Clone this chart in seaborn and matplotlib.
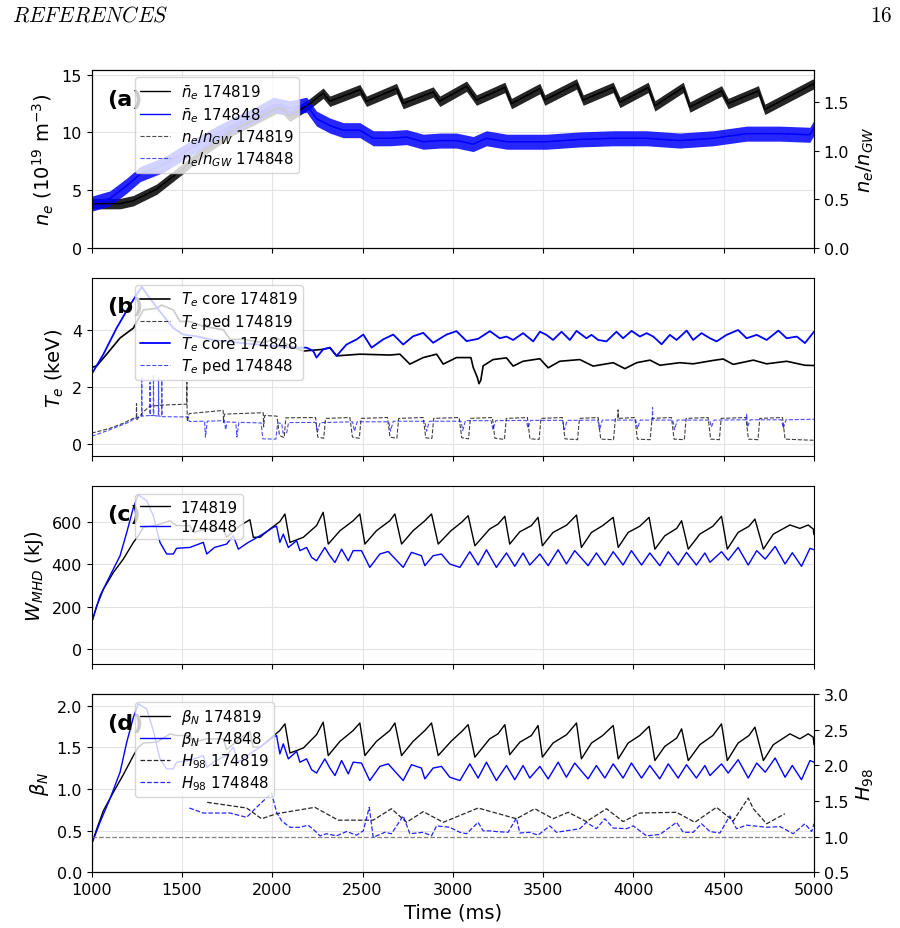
import numpy as np
import matplotlib
matplotlib.use("Agg")
import matplotlib.pyplot as plt
import seaborn as sns

# ---------------- data ----------------
time_ticks = [1000, 1500, 2000, 2500, 3000, 3500, 4000, 4500, 5000]

# (a) line-averaged density, 1e19 m^-3  (time ms, value)
ne_174819 = [(1000, 3.85), (1157, 3.85), (1230, 4.1), (1360, 5.1), (1507, 6.9), (1637, 8.6),
             (1784, 10.2), (1913, 11.2), (2024, 12.1), (2060, 12.0), (2098, 11.4), (2208, 12.5),
             (2282, 13.4), (2319, 12.7), (2485, 13.7), (2522, 12.7), (2688, 13.8), (2725, 12.5),
             (2891, 13.5), (2928, 12.7), (3076, 14.0), (3131, 12.8), (3288, 13.9), (3325, 12.5),
             (3482, 13.8), (3509, 12.8), (3685, 14.2), (3722, 12.8), (3888, 13.9), (3925, 12.6),
             (4082, 13.9), (4119, 12.3), (4276, 13.9), (4313, 12.2), (4488, 13.6), (4525, 12.5),
             (4692, 13.6), (4728, 12.0), (4996, 14.2), (5000, 14.0)]
ne_174848 = [(1000, 3.84), (1101, 4.3), (1194, 5.4), (1268, 6.4), (1397, 7.2), (1544, 8.6),
             (1692, 9.9), (1803, 10.8), (1913, 11.6), (2006, 12.4), (2098, 12.1), (2190, 12.4),
             (2245, 11.2), (2319, 10.6), (2393, 10.2), (2485, 10.2), (2559, 9.5), (2651, 9.5),
             (2744, 9.6), (2836, 9.2), (2928, 9.3), (3020, 9.3), (3113, 9.0), (3186, 9.5),
             (3300, 9.2), (3518, 9.2), (3703, 9.4), (3888, 9.5), (4073, 9.5), (4257, 9.3),
             (4442, 9.5), (4627, 9.9), (4811, 9.9), (4977, 9.8), (5000, 10.4)]
ne_noise_174819 = 0.45   # half-width of the noisy trace
ne_noise_174848 = 0.65
n_gw_174819 = 8.41       # Greenwald density (1e19 m^-3)
n_gw_174848 = 8.41

# (b) electron temperature, keV
te_core_174819 = [(1000, 2.69), (1028, 2.75), (1083, 3.16), (1157, 3.73), (1231, 4.08), (1286, 4.72),
                  (1360, 4.77), (1387, 4.89), (1452, 4.72), (1489, 4.31), (1544, 4.31), (1618, 4.14),
                  (1729, 4.02), (1766, 3.68), (1839, 3.68), (1950, 3.56), (2024, 3.73), (2098, 3.45),
                  (2172, 3.27), (2282, 3.33), (2319, 3.39), (2356, 3.10), (2485, 3.16), (2651, 3.13),
                  (2707, 3.16), (2762, 2.81), (2836, 3.04), (2910, 3.16), (2947, 2.81), (3020, 3.04),
                  (3100, 3.04), (3113, 2.69), (3135, 2.35), (3145, 2.12), (3155, 2.25), (3168, 2.75),
                  (3223, 2.97), (3297, 3.03), (3334, 2.74), (3389, 2.91), (3482, 3.00), (3528, 2.68),
                  (3592, 2.91), (3703, 2.97), (3777, 2.74), (3888, 2.86), (3953, 2.65), (4018, 2.86),
                  (4092, 2.95), (4147, 2.77), (4257, 2.86), (4331, 2.82), (4442, 2.94), (4497, 2.99),
                  (4553, 2.80), (4664, 2.95), (4738, 2.82), (4849, 2.91), (4950, 2.77), (5000, 2.76)]
te_ped_174819 = [(1000, 0.38), (1100, 0.55), (1175, 0.73), (1230, 0.90), (1247, 0.93), (1248, 1.42),
                 (1250, 0.86), (1286, 1.13), (1323, 1.33), (1400, 1.37), (1525, 1.40), (1527, 2.17),
                 (1529, 0.79), (1540, 1.07), (1728, 1.18), (1730, 0.76), (1735, 1.05), (1950, 1.10),
                 (1952, 0.60), (1958, 1.00), (2026, 0.98), (2040, 0.30), (2066, 0.22), (2075, 0.92),
                 (2240, 0.93), (2252, 0.24), (2285, 0.20), (2295, 0.90),
                 (2430, 0.93), (2444, 0.24), (2482, 0.20), (2492, 0.90),
                 (2638, 0.93), (2652, 0.24), (2690, 0.20), (2700, 0.90),
                 (2836, 0.93), (2850, 0.22), (2884, 0.19), (2894, 0.90),
                 (3035, 0.93), (3049, 0.22), (3087, 0.18), (3097, 0.90),
                 (3219, 0.93), (3233, 0.20), (3286, 0.16), (3296, 0.90),
                 (3413, 0.93), (3427, 0.18), (3478, 0.16), (3488, 0.90),
                 (3607, 0.93), (3621, 0.18), (3691, 0.15), (3701, 0.90),
                 (3805, 0.93), (3819, 0.17), (3890, 0.15), (3900, 0.88), (3914, 0.90), (3915, 1.20),
                 (3917, 0.90),
                 (4008, 0.93), (4022, 0.17), (4093, 0.15), (4103, 0.90),
                 (4211, 0.93), (4225, 0.17), (4282, 0.15), (4292, 0.90),
                 (4414, 0.93), (4428, 0.17), (4476, 0.15), (4486, 0.90),
                 (4623, 0.93), (4637, 0.17), (4690, 0.15), (4700, 0.90),
                 (4826, 0.93), (4840, 0.17), (4950, 0.14), (5000, 0.13)]
te_core_174848 = [(1000, 2.46), (1065, 3.16), (1138, 4.08), (1212, 4.89), (1277, 5.53), (1323, 5.12),
                  (1378, 4.66), (1452, 4.08), (1507, 3.85), (1581, 3.79), (1655, 3.68), (1729, 3.62),
                  (1821, 3.56), (1913, 3.50), (2006, 3.45), (2098, 3.39), (2190, 3.39), (2227, 3.27),
                  (2245, 3.04), (2282, 3.33), (2319, 3.39), (2356, 3.10), (2411, 3.50), (2467, 3.68),
                  (2504, 3.85), (2550, 3.39), (2614, 3.68), (2670, 3.85), (2725, 3.50), (2780, 3.79),
                  (2836, 3.91), (2891, 3.56), (2965, 3.85), (3020, 3.97), (3076, 3.62), (3140, 3.70),
                  (3205, 3.97), (3260, 3.72), (3297, 3.78), (3334, 3.66), (3389, 3.90), (3445, 3.61),
                  (3482, 3.95), (3518, 3.84), (3555, 3.66), (3602, 3.95), (3648, 3.66), (3685, 3.98),
                  (3740, 3.72), (3768, 3.84), (3805, 3.66), (3851, 3.61), (3906, 3.95), (3943, 3.72),
                  (3990, 3.98), (4036, 3.78), (4073, 3.90), (4110, 3.78), (4156, 3.51), (4202, 3.84),
                  (4239, 3.66), (4295, 3.99), (4331, 3.66), (4377, 3.90), (4424, 3.72), (4461, 3.61),
                  (4516, 3.84), (4580, 4.01), (4627, 3.72), (4683, 3.84), (4738, 3.66), (4803, 3.99),
                  (4849, 3.72), (4905, 3.78), (4950, 3.55), (5000, 3.95)]
te_ped_174848 = [(1000, 0.27), (1100, 0.50), (1200, 0.75), (1240, 0.90), (1276, 0.98), (1277, 2.35),
                 (1279, 0.98), (1322, 1.00), (1323, 2.17), (1325, 1.00), (1341, 1.00), (1342, 2.40),
                 (1344, 1.00), (1369, 0.98), (1370, 2.29), (1372, 0.98), (1387, 0.97), (1388, 2.23),
                 (1390, 0.96), (1535, 0.95), (1540, 0.79), (1625, 0.80), (1630, 0.24), (1640, 0.80),
                 (1735, 0.82), (1742, 0.50), (1750, 0.78), (1798, 0.76), (1804, 0.24), (1815, 0.76),
                 (1938, 0.74), (1948, 0.18), (2020, 0.17), (2030, 0.74), (2052, 0.72), (2060, 0.38),
                 (2080, 0.40), (2090, 0.75), (2240, 0.76), (2250, 0.42), (2265, 0.75), (2445, 0.78),
                 (2455, 0.45), (2470, 0.78), (2645, 0.78), (2655, 0.45), (2670, 0.80), (2845, 0.80),
                 (2855, 0.45), (2870, 0.80), (3045, 0.80), (3055, 0.48), (3070, 0.82), (3212, 0.82),
                 (3222, 0.50), (3237, 0.82), (3406, 0.83), (3416, 0.56), (3431, 0.83), (3608, 0.83),
                 (3618, 0.50), (3633, 0.83), (3803, 0.84), (3813, 0.50), (3828, 0.84), (4013, 0.84),
                 (4023, 0.54), (4038, 0.84), (4104, 0.84), (4106, 1.29), (4108, 0.84), (4218, 0.84),
                 (4228, 0.50), (4243, 0.84), (4422, 0.84), (4432, 0.60), (4447, 0.84), (4625, 0.85),
                 (4627, 1.06), (4632, 0.60), (4647, 0.85), (4820, 0.85), (4830, 0.55), (4845, 0.85),
                 (5000, 0.87)]

# (c) stored energy, kJ
w_174819 = [(1000, 126), (1028, 205), (1065, 283), (1120, 362), (1175, 425), (1231, 504), (1258, 535),
            (1286, 575), (1360, 586), (1434, 606), (1470, 583), (1544, 583), (1563, 551), (1637, 567),
            (1729, 567), (1747, 528), (1821, 583), (1876, 611), (1895, 528), (1932, 528), (1987, 567),
            (2042, 602), (2070, 638), (2098, 504), (2172, 528), (2245, 583), (2282, 646), (2310, 496),
            (2375, 559), (2448, 606), (2485, 638), (2513, 496), (2577, 559), (2651, 606), (2679, 638),
            (2716, 496), (2780, 559), (2845, 606), (2882, 638), (2919, 496), (2990, 559), (3050, 600),
            (3085, 630), (3122, 488), (3204, 567), (3250, 590), (3288, 627), (3315, 496), (3371, 554),
            (3435, 583), (3472, 622), (3496, 488), (3555, 551), (3630, 585), (3685, 633), (3712, 480),
            (3768, 551), (3830, 583), (3888, 622), (3916, 480), (3971, 551), (4035, 580), (4087, 622),
            (4119, 472), (4174, 535), (4240, 570), (4267, 606), (4304, 472), (4368, 543), (4440, 580),
            (4488, 627), (4520, 472), (4580, 551), (4640, 580), (4673, 614), (4720, 472), (4775, 543),
            (4867, 586), (4922, 570), (4968, 586), (4996, 567), (5000, 540)]
w_174848 = [(1000, 126), (1046, 252), (1101, 346), (1157, 441), (1194, 551), (1231, 669), (1258, 728),
            (1304, 701), (1341, 630), (1378, 504), (1415, 449), (1452, 449), (1470, 476), (1544, 480),
            (1618, 504), (1637, 449), (1680, 480), (1747, 496), (1784, 535), (1812, 472), (1860, 500),
            (1932, 535), (2006, 575), (2024, 580), (2042, 504), (2061, 543), (2089, 480), (2135, 512),
            (2153, 465), (2190, 480), (2218, 433), (2245, 417), (2291, 480), (2319, 441), (2347, 409),
            (2384, 472), (2421, 417), (2448, 465), (2494, 465), (2540, 386), (2596, 449), (2642, 461),
            (2725, 386), (2771, 457), (2826, 441), (2845, 394), (2891, 441), (2937, 449), (2983, 402),
            (3039, 386), (3094, 460), (3140, 397), (3186, 469), (3241, 386), (3297, 454), (3343, 391),
            (3389, 454), (3426, 397), (3482, 449), (3528, 394), (3583, 469), (3629, 402), (3675, 465),
            (3749, 394), (3795, 454), (3842, 397), (3888, 460), (3943, 397), (3989, 465), (4045, 397),
            (4091, 454), (4146, 394), (4193, 460), (4248, 397), (4294, 457), (4349, 397), (4396, 454),
            (4424, 410), (4488, 460), (4525, 420), (4580, 480), (4636, 397), (4683, 465), (4730, 425),
            (4785, 485), (4840, 402), (4880, 455), (4931, 391), (4978, 476), (5000, 469)]

# (d) normalised beta and confinement factor
beta_174819 = [(1000, 0.34), (1028, 0.52), (1065, 0.74), (1120, 0.96), (1175, 1.17), (1231, 1.40),
               (1258, 1.50), (1286, 1.55), (1360, 1.56), (1434, 1.66), (1470, 1.64), (1544, 1.64),
               (1563, 1.56), (1637, 1.60), (1729, 1.60), (1747, 1.47), (1821, 1.60), (1876, 1.69),
               (1895, 1.50), (1932, 1.50), (1987, 1.60), (2042, 1.70), (2070, 1.78), (2098, 1.43),
               (2172, 1.49), (2245, 1.65), (2282, 1.80), (2310, 1.40), (2375, 1.57), (2448, 1.70),
               (2485, 1.79), (2513, 1.40), (2577, 1.57), (2651, 1.70), (2679, 1.79), (2716, 1.40),
               (2780, 1.57), (2845, 1.70), (2882, 1.79), (2919, 1.40), (2990, 1.57), (3050, 1.69),
               (3085, 1.77), (3122, 1.38), (3204, 1.60), (3250, 1.66), (3288, 1.77), (3315, 1.41),
               (3371, 1.56), (3435, 1.64), (3472, 1.76), (3496, 1.38), (3555, 1.55), (3630, 1.65),
               (3685, 1.79), (3712, 1.36), (3768, 1.55), (3830, 1.64), (3888, 1.76), (3916, 1.36),
               (3971, 1.55), (4035, 1.64), (4087, 1.75), (4119, 1.34), (4174, 1.51), (4240, 1.61),
               (4267, 1.72), (4304, 1.34), (4368, 1.53), (4440, 1.64), (4488, 1.78), (4520, 1.34),
               (4580, 1.55), (4640, 1.64), (4673, 1.74), (4720, 1.34), (4775, 1.53), (4867, 1.66),
               (4922, 1.60), (4968, 1.66), (4996, 1.62), (5000, 1.53)]
beta_174848 = [(1000, 0.34), (1046, 0.60), (1101, 0.88), (1157, 1.20), (1194, 1.56), (1231, 1.86),
               (1258, 2.02), (1304, 1.96), (1341, 1.70), (1378, 1.36), (1415, 1.24), (1452, 1.24),
               (1470, 1.32), (1544, 1.34), (1618, 1.40), (1637, 1.26), (1680, 1.33), (1747, 1.40),
               (1784, 1.50), (1812, 1.32), (1860, 1.40), (1932, 1.50), (2006, 1.62), (2024, 1.64),
               (2042, 1.42), (2061, 1.54), (2089, 1.36), (2135, 1.45), (2153, 1.32), (2190, 1.36),
               (2218, 1.23), (2245, 1.19), (2291, 1.36), (2319, 1.25), (2347, 1.16), (2384, 1.34),
               (2421, 1.18), (2448, 1.32), (2494, 1.31), (2540, 1.10), (2596, 1.27), (2642, 1.30),
               (2725, 1.10), (2771, 1.29), (2826, 1.25), (2845, 1.12), (2891, 1.25), (2937, 1.27),
               (2983, 1.14), (3039, 1.10), (3094, 1.30), (3140, 1.13), (3186, 1.32), (3241, 1.10),
               (3297, 1.28), (3343, 1.11), (3389, 1.28), (3426, 1.13), (3482, 1.27), (3528, 1.12),
               (3583, 1.32), (3629, 1.14), (3675, 1.31), (3749, 1.12), (3795, 1.28), (3842, 1.13),
               (3888, 1.30), (3943, 1.13), (3989, 1.31), (4045, 1.13), (4091, 1.28), (4146, 1.12),
               (4193, 1.30), (4248, 1.13), (4294, 1.29), (4349, 1.13), (4396, 1.28), (4424, 1.16),
               (4488, 1.30), (4525, 1.19), (4580, 1.35), (4636, 1.13), (4683, 1.31), (4730, 1.20),
               (4785, 1.37), (4840, 1.14), (4880, 1.28), (4931, 1.11), (4978, 1.34), (5000, 1.32)]
h98_174819 = [(1640, 1.48), (1858, 1.40), (1941, 1.25), (2024, 1.32), (2236, 1.41), (2365, 1.23),
              (2559, 1.23), (2660, 1.39), (2744, 1.20), (2836, 1.35), (2947, 1.20), (3140, 1.40),
              (3352, 1.25), (3454, 1.39), (3555, 1.25), (3639, 1.34), (3740, 1.21), (3851, 1.39),
              (3943, 1.21), (4036, 1.33), (4239, 1.34), (4340, 1.20), (4460, 1.41), (4553, 1.22),
              (4636, 1.54), (4664, 1.39), (4738, 1.18), (4839, 1.32)]
h98_174848 = [(1541, 1.40), (1618, 1.33), (1766, 1.33), (1858, 1.27), (1913, 1.41), (1996, 1.61),
              (2024, 1.34), (2052, 1.22), (2098, 1.13), (2153, 1.13), (2199, 1.16), (2245, 1.06),
              (2264, 1.01), (2300, 1.04), (2356, 1.01), (2411, 1.07), (2467, 1.02), (2504, 1.08),
              (2537, 1.41), (2559, 0.99), (2623, 1.06), (2660, 1.04), (2725, 1.29), (2762, 1.04),
              (2836, 1.06), (2882, 1.01), (2910, 1.15), (2983, 1.13), (3039, 1.06), (3076, 1.04),
              (3140, 1.20), (3168, 1.08), (3205, 1.08), (3241, 1.07), (3306, 1.06), (3352, 1.26),
              (3371, 1.05), (3426, 1.06), (3472, 1.02), (3537, 1.15), (3574, 1.06), (3703, 1.11),
              (3740, 1.20), (3795, 1.11), (3842, 1.25), (3888, 1.12), (3962, 1.11), (3999, 1.15),
              (4073, 1.01), (4147, 1.03), (4239, 1.20), (4276, 1.06), (4331, 1.06), (4377, 1.18),
              (4424, 1.07), (4479, 1.05), (4534, 1.29), (4571, 1.11), (4627, 1.16), (4738, 1.13),
              (4812, 1.14), (4885, 1.04), (4950, 1.18), (4987, 1.07), (5000, 1.18)]
h98_reference = 1.0

# ---------------- style ----------------
sns.set_style("ticks", rc={"axes.edgecolor": "black", "text.color": "black",
                           "xtick.color": "black", "ytick.color": "black",
                           "axes.labelcolor": "black"})
plt.rcParams["font.family"] = ["DejaVu Sans"]

TICK_FS = 11.5
LABEL_FS = 14
LEG_FS = 10.8
PANEL_FS = 16


def arr(series):
    a = np.asarray(series, dtype=float)
    return a[:, 0], a[:, 1]


def draw(ax, series, label, scale=1.0, **kw):
    t, v = arr(series)
    sns.lineplot(x=t, y=v / scale, ax=ax, estimator=None, sort=False, legend=False, **kw)
    line = ax.lines[-1]
    line.set_label(label)
    return line


fig = plt.figure(figsize=(9, 9.29), dpi=100)
axes = fig.subplots(4, 1, sharex=True,
                    gridspec_kw=dict(left=0.1019, right=0.9044, top=0.9239,
                                     bottom=0.0600, hspace=0.166))

for ax in axes:
    ax.grid(True, color="#e3e3e3", lw=0.8)
    ax.set_axisbelow(True)
    ax.tick_params(labelsize=TICK_FS)
    ax.set_xlim(1000, 5000)
    ax.set_xticks(time_ticks)

leg_kw = dict(loc="upper left", bbox_to_anchor=(0.06, 0.957), borderaxespad=0,
              fontsize=LEG_FS, framealpha=0.8, labelspacing=0.22, borderpad=0.35,
              handletextpad=0.7)

# ---- (a) density ----
ax = axes[0]
t1, v1 = arr(ne_174819)
t2, v2 = arr(ne_174848)
ax.fill_between(t1, v1 - ne_noise_174819, v1 + ne_noise_174819, color="k", lw=0, alpha=0.85)
l1 = draw(ax, ne_174819, r"$\bar{n}_e$ 174819", color="k", lw=1.0)
ax.fill_between(t2, v2 - ne_noise_174848, v2 + ne_noise_174848, color="b", lw=0, alpha=0.85)
l2 = draw(ax, ne_174848, r"$\bar{n}_e$ 174848", color="b", lw=1.0)
ax.set_ylim(0, 15.43)
ax.set_yticks([0, 5, 10, 15])
ax.set_ylabel(r"$n_e$ ($10^{19}$ m$^{-3}$)", fontsize=LABEL_FS)
axr = ax.twinx()
l3 = draw(axr, ne_174819, r"$n_e/n_{GW}$ 174819", scale=n_gw_174819, color="k", ls="--", lw=0.8, alpha=0.7)
l4 = draw(axr, ne_174848, r"$n_e/n_{GW}$ 174848", scale=n_gw_174848, color="b", ls="--", lw=0.8, alpha=0.7)
axr.set_ylim(0, 15.43 / n_gw_174819)
axr.set_yticks([0.0, 0.5, 1.0, 1.5])
axr.tick_params(labelsize=TICK_FS)
axr.set_ylabel(r"$n_e/n_{GW}$", fontsize=LABEL_FS)
axr.text(0.021, 0.835, "(a)", transform=axr.transAxes, fontsize=PANEL_FS,
         fontweight="bold", va="center", zorder=3)
axr.legend(handles=[l1, l2, l3, l4], **leg_kw).set_zorder(10)

# ---- (b) temperature ----
ax = axes[1]
h1 = draw(ax, te_core_174819, r"$T_e$ core 174819", color="k", lw=1.2)
h2 = draw(ax, te_ped_174819, r"$T_e$ ped 174819", color="k", ls="--", lw=0.8, alpha=0.75)
h3 = draw(ax, te_core_174848, r"$T_e$ core 174848", color="b", lw=1.3)
h4 = draw(ax, te_ped_174848, r"$T_e$ ped 174848", color="b", ls="--", lw=0.8, alpha=0.7)
ax.set_ylim(-0.43, 5.85)
ax.set_yticks([0, 2, 4])
ax.set_ylabel(r"$T_e$ (keV)", fontsize=LABEL_FS)
ax.text(0.021, 0.84, "(b)", transform=ax.transAxes, fontsize=PANEL_FS,
        fontweight="bold", va="center", zorder=3)
ax.legend(handles=[h1, h2, h3, h4], **{**leg_kw, "bbox_to_anchor": (0.06, 0.962)}).set_zorder(10)

# ---- (c) stored energy ----
ax = axes[2]
c1 = draw(ax, w_174819, "174819", color="k", lw=1.0)
c2 = draw(ax, w_174848, "174848", color="b", lw=1.0)
ax.set_ylim(-71, 771)
ax.set_yticks([0, 200, 400, 600])
ax.set_ylabel(r"$W_{MHD}$ (kJ)", fontsize=LABEL_FS)
ax.text(0.021, 0.84, "(c)", transform=ax.transAxes, fontsize=PANEL_FS,
        fontweight="bold", va="center", zorder=3)
ax.legend(handles=[c1, c2], **{**leg_kw, "bbox_to_anchor": (0.06, 0.952),
                               "labelspacing": 0.3}).set_zorder(10)

# ---- (d) beta_N and H98 ----
ax = axes[3]
d1 = draw(ax, beta_174819, r"$\beta_N$ 174819", color="k", lw=1.0)
d2 = draw(ax, beta_174848, r"$\beta_N$ 174848", color="b", lw=1.0)
ax.set_ylim(0, 2.14)
ax.set_yticks([0.0, 0.5, 1.0, 1.5, 2.0])
ax.set_ylabel(r"$\beta_N$", fontsize=LABEL_FS)
axr = ax.twinx()
axr.axhline(h98_reference, color="gray", ls="--", lw=0.9)
d3 = draw(axr, h98_174819, r"$H_{98}$ 174819", color="k", ls="--", lw=0.9, alpha=0.85)
d4 = draw(axr, h98_174848, r"$H_{98}$ 174848", color="b", ls="--", lw=0.9, alpha=0.85)
axr.set_ylim(0.5, 3.0)
axr.set_yticks([0.5, 1.0, 1.5, 2.0, 2.5, 3.0])
axr.tick_params(labelsize=TICK_FS)
axr.set_ylabel(r"$H_{98}$", fontsize=LABEL_FS)
axr.text(0.021, 0.837, "(d)", transform=axr.transAxes, fontsize=PANEL_FS,
         fontweight="bold", va="center", zorder=3)
axr.legend(handles=[d1, d2, d3, d4], **leg_kw).set_zorder(10)

axes[3].set_xlabel("Time (ms)", fontsize=LABEL_FS)
for ax in axes:
    ax.set_xlim(1000, 5000)

# page header
fig.text(0.013, 0.983, r"$\mathit{REFERENCES}$", fontsize=15.3, va="center", ha="left",
         math_fontfamily="cm")
fig.text(0.992, 0.983, r"$\mathrm{16}$", fontsize=15.3, va="center", ha="right",
         math_fontfamily="cm")

fig.savefig("out.png", dpi=100)
